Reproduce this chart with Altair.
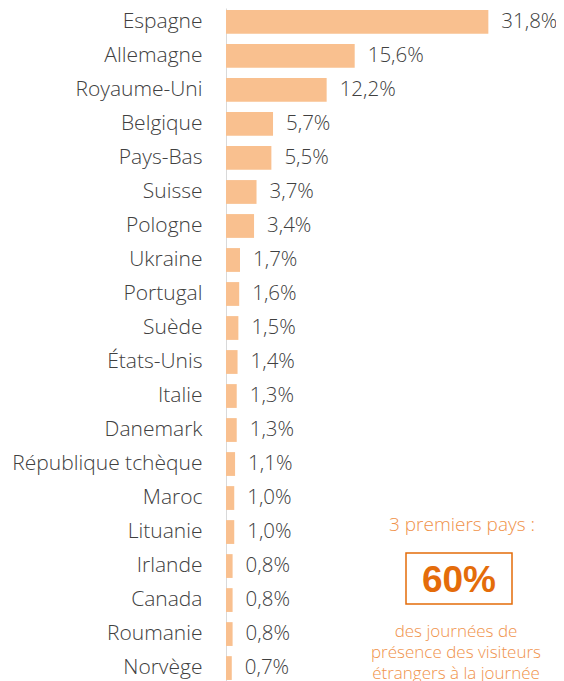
import altair as alt
import pandas as pd

countries = ["Espagne", "Allemagne", "Royaume-Uni", "Belgique", "Pays-Bas", "Suisse",
             "Pologne", "Ukraine", "Portugal", "Suède", "États-Unis", "Italie",
             "Danemark", "République tchèque", "Maroc", "Lituanie", "Irlande",
             "Canada", "Roumanie", "Norvège"]
shares = [31.8, 15.6, 12.2, 5.7, 5.5, 3.7, 3.4, 1.7, 1.6, 1.5, 1.4, 1.3, 1.3, 1.1,
          1.0, 1.0, 0.8, 0.8, 0.8, 0.7]
labels = [f"{v:.1f}%".replace(".", ",") for v in shares]

note_top = ["3 premiers pays :"]
note_big = ["60%"]
note_lines = ["des journées de", "présence des visiteurs", "étrangers à la journée"]

df = pd.DataFrame({"pays": countries, "part": shares, "label": labels})

FONT = "Open Sans"
TXT = "#404040"
ORANGE_L = "#F0924A"
ORANGE_D = "#E46C0A"

y_enc = alt.Y("pays:N", sort=None,
              scale=alt.Scale(paddingInner=0.3, paddingOuter=0.06),
              axis=alt.Axis(title=None, ticks=False, domainColor="#D9D9D9",
                            domainWidth=1, labelFont=FONT, labelFontSize=21,
                            labelFontWeight=300,
                            labelColor=TXT, labelPadding=24, labelLimit=300))
x_enc = alt.X("part:Q", scale=alt.Scale(domain=[0, 40], nice=False), axis=None)

bars = alt.Chart(df).mark_bar(color="#F9C08F").encode(x=x_enc, y=y_enc)
vals = alt.Chart(df).mark_text(align="left", baseline="middle", dx=13,
                               font=FONT, fontSize=20.5, fontWeight=300, color=TXT).encode(
    x=x_enc, y=y_enc, text="label:N")

top = alt.Chart(pd.DataFrame({"t": note_top})).mark_text(
    align="center", baseline="middle", font=FONT, fontSize=19, fontWeight=300,
    color=ORANGE_L
).encode(x=alt.value(236), y=alt.value(517), text="t:N")

box = alt.Chart(pd.DataFrame({"t": note_big})).mark_rect(
    fill=None, stroke=ORANGE_D, strokeWidth=1.5
).encode(x=alt.value(180), x2=alt.value(286), y=alt.value(545), y2=alt.value(596))

big = alt.Chart(pd.DataFrame({"t": note_big})).mark_text(
    align="center", baseline="middle", font="Liberation Sans", fontWeight="bold",
    fontSize=37, color=ORANGE_D
).encode(x=alt.value(233), y=alt.value(573), text="t:N")

lines_df = pd.DataFrame({"t": note_lines, "i": [0, 1, 2]})
lines = alt.Chart(lines_df).transform_calculate(py="624 + datum.i * 21").mark_text(
    align="center", baseline="middle", font=FONT, fontSize=17, fontWeight=300,
    color=ORANGE_L
).encode(x=alt.value(230), y=alt.Y("py:Q", scale=None, axis=None), text="t:N")

chart = alt.layer(bars, vals, top, box, big, lines).properties(
    width=330, height=674,
    autosize=alt.AutoSizeParams(type="none"),
    padding={"left": 218, "top": 0, "right": 0, "bottom": 0},
).configure_view(stroke=None)

chart.save("out.html", embed_options={"renderer": "svg", "actions": False})
